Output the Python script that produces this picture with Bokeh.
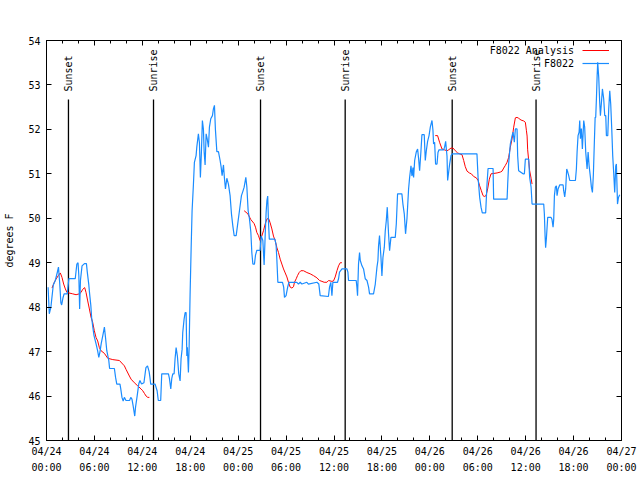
import math
from bokeh.plotting import figure
from bokeh.models import (Range1d, FixedTicker, LinearAxis, Legend, LegendItem,
                          CustomJSTickFormatter, Label)
from bokeh.embed import file_html
from bokeh.resources import INLINE
from bokeh.core.properties import value

NAN = float("nan")

TITLE = "Dew Point for F8022 on 2024-Apr-24 (time in UTC)"

# hours since 2024-04-24 00:00 UTC
obs_hours = [0.2, 0.35, 0.55, 0.85, 1.1, 1.35, 1.5, 1.65, 1.8, 1.9, 2.05, 2.2, 2.6, 2.8, 3.6,
             3.8, 3.95, 4.05, 4.15, 4.25, 4.45, 4.75, 5.0, 5.1, 5.3, 5.4, 5.55, 5.65, 5.8, 5.95,
             6.2, 6.4, 6.55, 6.7, 6.85, 7.05, 7.25, 7.4, 7.55, 7.8, 7.9, 8.5, 8.65, 8.8, 9.2,
             9.3, 9.45, 9.6, 9.75, 9.95, 10.4, 10.55, 10.7, 10.85, 11.05, 11.15, 11.35, 11.55,
             11.7, 11.9, 12.2, 12.45, 12.65, 12.85, 12.95, 13.05, 13.6, 13.85, 14.0, 14.3, 14.43,
             15.27, 15.39, 15.56, 15.69, 15.81, 15.98, 16.1, 16.23, 16.39, 16.56, 16.73, 16.85,
             16.98, 17.06, 17.23, 17.36, 17.48, 17.57, 17.64, 17.77, 17.86, 17.98, 18.11, 18.23,
             18.4, 18.52, 18.73, 18.82, 19.02, 19.15, 19.27, 19.4, 19.52, 19.65, 19.74, 19.86,
             19.99, 20.11, 20.28, 20.4, 20.57, 20.78, 20.9, 21.03, 21.15, 21.33, 21.53, 21.74,
             21.87, 21.99, 22.16, 22.28, 22.41, 22.58, 22.78, 22.99, 23.16, 23.33, 23.5, 23.75,
             23.91, 24.16, 24.41, 24.58, 24.75, 24.96, 25.09, 25.25, 25.42, 25.59, 25.71, 25.84,
             26.04, 26.17, 26.34, 26.75, 26.88, 27.09, 27.25, 27.38, 27.5, 27.6, 27.7, 27.8,
             27.9, 28.6, 28.75, 28.85, 28.97, 29.55, 29.7, 29.8, 30.0, 30.2, 30.35, 31.35, 31.55,
             31.77, 31.98, 32.6, 32.8, 33.86, 34.1, 34.27, 35.3, 35.44, 35.6, 35.74, 35.86,
             36.44, 36.57, 36.69, 37.0, 37.62, 37.74, 37.82, 38.78, 38.87, 38.95, 39.07, 39.2,
             39.29, 39.5, 39.7, 39.91, 40.13, 40.33, 40.45, 40.95, 41.17, 41.38, 41.5, 41.58,
             41.7, 41.88, 42.0, 42.13, 42.3, 42.42, 42.55, 42.67, 42.83, 42.96, 43.13, 43.67,
             43.8, 43.96, 44.5, 44.63, 44.8, 44.96, 45.14, 45.34, 45.47, 45.64, 45.76, 45.89,
             45.97, 46.1, 46.3, 46.47, 46.6, 46.72, 46.89, 47.01, 47.3, 47.43, 47.56, 47.72,
             47.9, 48.06, 48.27, 48.39, 48.47, 48.6, 48.72, 48.9, 49.02, 49.15, 49.73, 49.85,
             49.98, 50.15, 50.23, 50.35, 50.48, 50.65, 50.81, 53.9, 54.04, 54.24, 54.41, 54.57,
             54.99, 55.16, 55.29, 55.92, 55.99, 57.67, 57.75, 57.87, 58.08, 58.3, 58.42, 58.58,
             58.71, 58.92, 59.0, 59.12, 59.67, 59.84, 59.96, 60.38, 60.5, 60.68, 60.8, 62.26,
             62.34, 62.43, 62.5, 62.6, 62.76, 63.18, 63.3, 63.43, 63.51, 63.6, 63.72, 63.85,
             63.93, 64.06, 64.26, 64.69, 64.76, 64.89, 65.01, 65.14, 65.27, 65.39, 65.52, 66.23,
             66.35, 66.44, 66.56, 66.69, 66.77, 66.86, 66.98, 67.1, 67.27, 67.39, 67.52, 67.69,
             67.82, 67.94, 68.11, 68.23, 68.36, 68.48, 68.6, 68.7, 68.77, 68.86, 68.95, 69.02,
             69.15, 69.27, 69.36, 69.49, 69.61, 69.77, 69.9, 70.03, 70.11, 70.28, 70.4, 70.53,
             70.65, 70.78, 70.9, 71.03, 71.15, 71.28, 71.36, 71.5, 71.62, 71.78]
obs_dewpt = [48.45, 47.85, 48.0, 48.5, 48.6, 48.78, 48.9, 48.55, 48.1, 48.05, 48.2, 48.3, 48.3, 48.64, 48.64,
             48.97, 49.0, 48.7, 47.96, 48.6, 48.93, 48.98, 48.98, 48.8, 48.5, 48.3, 48.04, 47.77, 47.55, 47.36,
             47.18, 47.02, 46.87, 47.0, 47.18, 47.36, 47.55, 47.3, 47.02, 46.8, 46.62, 46.62, 46.42, 46.27, 46.27,
             46.16, 45.97, 45.89, 45.97, 45.9, 45.9, 45.97, 45.93, 45.78, 45.55, 45.75, 46.0, 46.27,
             46.35, 46.27, 46.3, 46.64, 46.68, 46.55, 46.42, 46.27, 46.27, 46.12, 45.9, 45.9, 46.5,
             46.5, 46.4, 46.16, 46.4, 46.5, 46.5, 46.84, 47.09, 46.9, 46.5, 46.34, 46.84,
             47.05, 47.43, 47.73, 47.88, 47.88, 46.9, 47.1, 46.53, 47.1, 48.29, 49.31, 50.17,
             50.77, 51.26, 51.41, 51.6, 51.9, 51.7, 50.92, 51.5, 52.2, 52.0, 51.5, 51.2,
             51.9, 51.8, 51.6, 52.05, 52.24, 52.31, 52.46, 52.54, 52.0, 51.5, 51.5, 51.3,
             51.15, 50.96, 51.2, 50.9, 50.66, 50.9, 50.77, 50.51, 50.1, 49.83, 49.61, 49.61,
             49.83, 50.17, 50.51, 50.6, 50.7, 50.92, 50.7, 50.17, 49.98, 49.68, 49.23, 48.97,
             48.97, 49.17, 49.28, 49.28, 49.6, 49.5, 48.95, 49.6, 50.13, 50.4, 50.5, 49.9,
             49.53, 49.53, 49.4, 49.05, 48.56, 48.56, 48.45, 48.22, 48.26, 48.45, 48.56, 48.56, 48.52,
             48.56, 48.52, 48.56, 48.52, 48.56, 48.52, 48.26, 48.24, 48.45, 48.56, 48.26, 48.56,
             48.56, 48.64, 48.79, 48.86, 48.86, 48.79, 48.6, 48.6, 48.45, 48.26, 48.97, 49.23,
             49.05, 48.93, 48.86, 48.64, 48.6, 48.45, 48.3, 48.3, 48.52, 48.9, 49.05, 49.38,
             49.61, 49.12, 48.7, 49.12, 49.35, 49.72, 49.95, 50.25, 49.65, 49.27, 49.57, 49.57,
             49.87, 50.55, 50.55, 50.32, 50.1, 49.65, 50.0, 50.66, 50.92, 51.18, 50.95, 51.14,
             50.92, 51.3, 51.49, 51.56, 51.33, 51.07, 51.52, 51.88, 51.88, 51.3, 51.52, 51.73,
             51.86, 52.05, 52.2, 51.98, 51.67, 51.71, 51.22, 51.22, 51.48, 51.54, 51.54, 51.6,
             51.73, 51.4, 50.85, 51.03, 51.22, 51.41, 51.45, 51.45, 50.92, 50.47, 50.25, 50.12,
             50.12, 50.77, 51.12, 51.12, 50.43, 50.43, 50.77, 51.23, 51.67, 51.86, 51.94, 51.71,
             52.01, 52.01, 51.4, 51.07, 51.0, 51.0, 51.33, 51.33, 50.92, 50.7, 50.32, 50.32,
             50.1, 49.61, 49.34, 49.56, 50.02, 50.02, 49.97, 49.8, 49.97, 50.51, 50.7, 50.73,
             50.51, 50.66, 50.75, 50.75, 50.62, 50.48, 50.66, 51.11, 51.04, 50.96, 50.85, 50.85,
             51.11, 51.49, 51.86, 51.94, 52.2, 51.79, 52.02, 51.56, 52.2, 52.05, 51.49, 51.11,
             51.49, 51.19, 50.92, 50.7, 50.58, 50.99, 51.71, 52.27, 52.27, 52.69, 53.21, 53.51,
             53.17, 52.61, 52.31, 52.61, 52.91, 52.69, 52.31, 52.31, 51.86, 51.86, 52.46, 52.87,
             52.57, 52.01, 51.41, 51.0, 50.58, 51.18, 51.22, 50.32, 50.47, 50.53]

ana_hours = [0.69, 0.98, 1.19, 1.48, 1.73, 1.94, 2.15, 2.36, 2.57, 3.28, 3.7, 4.11, 4.32, 4.53,
             4.78, 4.95, 5.16, 5.37, 5.58, 5.78, 5.99, 6.2, 6.41, 6.62, 6.83, 7.25, 7.67, 8.3,
             9.13, 9.54, 9.75, 9.96, 10.38, 10.59, 11.0, 11.42, 11.84, 12.05, 12.26, 12.47,
             12.68, 12.88, NAN,
             24.75, 25.21, 25.59, 26.0, 26.17, 26.34, 26.54, 26.75, 26.96, 27.17, 27.38, 27.59,
             27.8, 28.0, 28.22, 28.42, 28.63, 28.85, 29.05, 29.26, 29.47, 29.68, 29.89, 30.1,
             30.3, 30.51, 30.73, 30.93, 31.05, 31.27, 31.43, 31.64, 31.85, 32.18, 32.6, 33.02,
             33.43, 33.86, 34.19, 34.49, 34.77, 35.11, 35.32, 35.74, 35.94, 36.15, 36.37,
             36.57, 36.78, 36.99, NAN,
             48.68, 48.97, 49.22, 49.52, 49.81, 50.15, 50.35, 50.65, 50.9, 51.19, 51.48, 51.73,
             52.03, 52.24, 52.44, 52.66, 52.95, 53.2, 53.49, 53.82, 54.04, 54.24, 54.45, 54.66,
             54.82, 55.04, 55.24, 55.45, 55.66, 56.42, 56.83, 57.04, 57.25, 57.46, 57.67,
             57.87, 58.08, 58.3, 58.5, 58.71, 58.92, 59.12, 59.42, 59.75, 59.96, 60.09, 60.18,
             60.25, 60.38, 60.5, 60.68, 60.8]
ana_dewpt = [48.43, 48.56, 48.63, 48.71, 48.77, 48.67, 48.52, 48.41, 48.33, 48.3, 48.28, 48.3, 48.33, 48.4,
             48.44, 48.33, 48.14, 47.96, 47.77, 47.66, 47.47, 47.32, 47.24, 47.09, 47.02, 46.96, 46.85, 46.82,
             46.8, 46.72, 46.68, 46.6, 46.45, 46.38, 46.3, 46.23, 46.16, 46.12, 46.06, 46.0,
             45.97, 45.97, NAN,
             50.17, 50.1, 49.97, 49.88, 49.8, 49.68, 49.61, 49.5, 49.6, 49.72, 49.87, 49.98,
             50.0, 49.9, 49.76, 49.6, 49.5, 49.34, 49.23, 49.08, 48.97, 48.86, 48.77, 48.68,
             48.56, 48.45, 48.43, 48.46, 48.56, 48.64, 48.71, 48.78, 48.82, 48.82, 48.78, 48.75,
             48.71, 48.66, 48.6, 48.58, 48.56, 48.56, 48.6, 48.58, 48.59, 48.68, 48.82,
             48.93, 49.0, 49.0, NAN,
             51.86, 51.86, 51.71, 51.56, 51.54, 51.52, 51.54, 51.58, 51.58, 51.52, 51.47, 51.45,
             51.43, 51.3, 51.16, 51.06, 51.02, 51.0, 50.94, 50.91, 50.85, 50.73, 50.62, 50.51,
             50.49, 50.51, 50.66, 50.88, 51.0, 51.02, 51.04, 51.06, 51.13, 51.19, 51.26,
             51.37, 51.6, 51.79, 52.05, 52.26, 52.27, 52.25, 52.21, 52.19, 52.16, 51.98, 51.85,
             51.54, 51.3, 51.07, 50.9, 50.77]

sun_hours = [2.75, 13.4, 26.8, 37.4, 50.8, 61.3]
sun_names = ["Sunset", "Sunrise", "Sunset", "Sunrise", "Sunset", "Sunrise"]

series_names = ["F8022 Analysis", "F8022"]

x_ticks = [0, 6, 12, 18, 24, 30, 36, 42, 48, 54, 60, 66, 72]
x_minor_ticks = list(range(0, 73, 2))
x_tick_labels = ["04/24\n00:00", "04/24\n06:00", "04/24\n12:00", "04/24\n18:00",
                 "04/25\n00:00", "04/25\n06:00", "04/25\n12:00", "04/25\n18:00",
                 "04/26\n00:00", "04/26\n06:00", "04/26\n12:00", "04/26\n18:00",
                 "04/27\n00:00"]
y_ticks = [45, 46, 47, 48, 49, 50, 51, 52, 53, 54]

FONT = "DejaVu Sans Mono"
FS = "10px"
BLUE = "#1a8cff"
RED = "#ff0000"

p = figure(width=640, height=480, output_backend="svg", toolbar_location=None,
           x_range=Range1d(0, 72), y_range=Range1d(45, 54),
           min_border_left=46, min_border_right=19, min_border_top=40, min_border_bottom=40)
p.grid.visible = False
p.outline_line_color = "black"
p.outline_line_width = 1
p.outline_line_alpha = 1.0

xax = p.xaxis[0]
xax.ticker = FixedTicker(ticks=x_ticks, minor_ticks=x_minor_ticks)
xax.major_label_overrides = {t: lab for t, lab in zip(x_ticks, x_tick_labels)}
yax = p.yaxis[0]
yax.ticker = FixedTicker(ticks=y_ticks)
yax.axis_label = "degrees F"

for ax in (xax, yax):
    ax.axis_line_color = None
    ax.major_tick_in = 5
    ax.major_tick_out = 0
    ax.minor_tick_in = 3
    ax.minor_tick_out = 0
    ax.major_label_text_font = FONT
    ax.major_label_text_font_size = FS
    ax.major_label_text_color = "black"
    ax.axis_label_text_font = FONT
    ax.axis_label_text_font_size = FS
    ax.axis_label_text_font_style = "normal"
    ax.axis_label_text_color = "black"
yax.minor_tick_line_color = None
yax.major_label_standoff = 6
yax.axis_label_standoff = 10
xax.major_label_standoff = 5
xax.major_label_text_line_height = 1.5

blank = CustomJSTickFormatter(code="return ''")
top = LinearAxis(ticker=FixedTicker(ticks=x_ticks, minor_ticks=x_minor_ticks), formatter=blank,
                 axis_line_color=None, major_tick_in=5, major_tick_out=0, minor_tick_in=3,
                 minor_tick_out=0, major_label_standoff=0)
right = LinearAxis(ticker=FixedTicker(ticks=y_ticks), formatter=blank,
                   axis_line_color=None, major_tick_in=5, major_tick_out=0,
                   minor_tick_line_color=None, major_label_standoff=0)
p.add_layout(top, "above")
p.add_layout(right, "right")

# title, placed just above the frame
p.add_layout(Label(x=35.7, y=54.5, text=TITLE, text_align="center", text_baseline="middle",
                   text_font=FONT, text_font_size=FS, text_color="black"))

# sunrise / sunset markers
line_top = 52.67
label_y = 52.85
p.segment(x0=sun_hours, y0=[45] * len(sun_hours), x1=sun_hours, y1=[line_top] * len(sun_hours),
          line_color="black", line_width=1.3)
p.text(x=sun_hours, y=[label_y] * len(sun_hours), text=sun_names, angle=math.pi / 2,
       text_align="left", text_baseline="middle", text_font=value(FONT),
       text_font_size=value(FS), text_color="black")

r_ana = p.line(ana_hours, ana_dewpt, line_color=RED, line_width=1.0)
r_obs = p.line(obs_hours, obs_dewpt, line_color=BLUE, line_width=1.2)

# legend: samples drawn by Bokeh's legend, names written to their left (gnuplot style)
legend = Legend(items=[LegendItem(label=" ", renderers=[r_ana]),
                       LegendItem(label=" ", renderers=[r_obs])],
                location=(535.5, 371), padding=0, spacing=1, margin=0,
                glyph_width=27, glyph_height=12, label_height=12,
                label_text_font=FONT, label_text_font_size=FS, label_standoff=0,
                background_fill_alpha=0, border_line_color=None)
p.add_layout(legend)
for name, yy in zip(series_names, [53.775, 53.49]):
    p.add_layout(Label(x=66.05, y=yy, text=name, text_align="right", text_baseline="middle",
                       text_font=FONT, text_font_size=FS, text_color="black"))

open("out.html", "w").write(file_html(p, INLINE))
